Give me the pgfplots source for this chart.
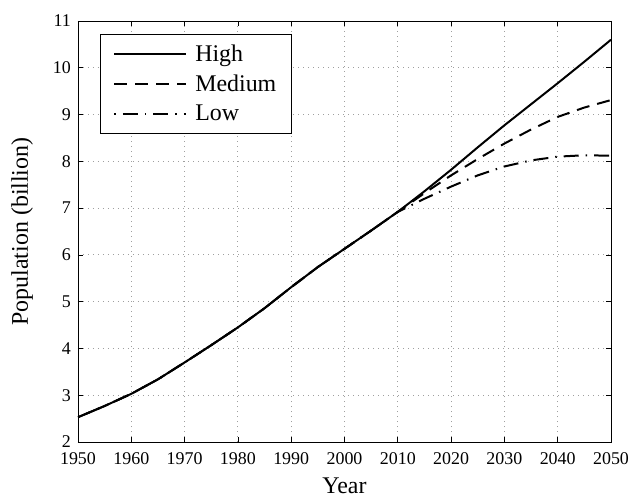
\documentclass[border=0pt]{standalone}
\usepackage{fontspec}
\setmainfont{Liberation Serif}
\usepackage{pgfplots}
\pgfplotsset{compat=1.18}
\begin{document}
\fontsize{18}{21}\selectfont
\begin{tikzpicture}
\begin{axis}[
  scale only axis, width=533bp, height=421bp,
  xmin=1950, xmax=2050, ymin=2, ymax=11,
  xtick={1950,1960,...,2050}, ytick={2,3,...,11},
  /pgf/number format/assume math mode=true,
  /pgf/number format/1000 sep={},
  tick align=inside, major tick length=5bp,
  grid=major, grid style={dash pattern=on 1bp off 4bp, gray!75, line width=0.9pt},
  axis line style={line width=0.9pt},
  tick style={black, line width=0.7pt},
  tick label style={font=\fontsize{18}{21}\selectfont},
  xticklabel style={yshift=-4bp},
  yticklabel style={xshift=-1bp},
  label style={font=\fontsize{24}{28}\selectfont},
  xlabel={Year}, ylabel={Population (billion)},
  xlabel style={at={(axis description cs:0.5,-0.103)}, anchor=center, inner sep=1bp},
  ylabel style={at={(axis description cs:-0.105,0.5)}, anchor=center},
  legend style={at={(axis description cs:0.041,0.969)}, anchor=north west,
    draw=black, line width=0.9pt, font=\fontsize{24}{27}\selectfont,
    row sep=7bp, inner xsep=13bp, inner ysep=8bp, nodes={inner sep=2bp}},
  legend cell align=left,
  legend image code/.code={\draw[#1, line width=2pt] (0bp,0bp) -- (72bp,0bp); \path (78bp,0bp);},
]
\addplot[black, line width=2pt] coordinates {
(1950,2.53) (1955,2.77) (1960,3.03) (1965,3.34) (1970,3.70) (1975,4.07)
(1980,4.45) (1985,4.86) (1990,5.31) (1995,5.74) (2000,6.13) (2005,6.52)
(2010,6.92) (2015,7.36) (2020,7.82) (2025,8.30) (2030,8.77) (2035,9.22)
(2040,9.67) (2045,10.13) (2050,10.60)};
\addlegendentry{High}
\addplot[black, line width=2pt, dash pattern=on 13bp off 8bp] coordinates {
(1950,2.53) (1955,2.77) (1960,3.03) (1965,3.34) (1970,3.70) (1975,4.07)
(1980,4.45) (1985,4.86) (1990,5.31) (1995,5.74) (2000,6.13) (2005,6.52)
(2010,6.92) (2015,7.32) (2020,7.70) (2025,8.05) (2030,8.38) (2035,8.68)
(2040,8.95) (2045,9.15) (2050,9.31)};
\addlegendentry{Medium}
\addplot[black, line width=2pt, dash pattern=on 1.5bp off 7bp on 15bp off 7bp] coordinates {
(1950,2.53) (1955,2.77) (1960,3.03) (1965,3.34) (1970,3.70) (1975,4.07)
(1980,4.45) (1985,4.86) (1990,5.31) (1995,5.74) (2000,6.13) (2005,6.52)
(2010,6.92) (2015,7.20) (2020,7.46) (2025,7.70) (2030,7.89) (2035,8.02)
(2040,8.10) (2045,8.13) (2050,8.12)};
\addlegendentry{Low}
\coordinate (bl) at (rel axis cs:0,0);
\coordinate (tr) at (rel axis cs:1,1);
\end{axis}
\pgfresetboundingbox
\path ([shift={(-78bp,-57bp)}]bl) rectangle ([shift={(21bp,21bp)}]tr);
\end{tikzpicture}
\end{document}
